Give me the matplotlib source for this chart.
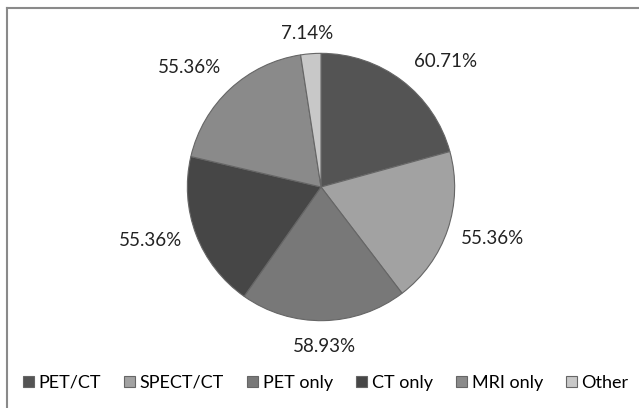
import numpy as np
import matplotlib.pyplot as plt
from matplotlib.lines import Line2D

labels = ['PET/CT', 'SPECT/CT', 'PET only', 'CT only', 'MRI only', 'Other']
values = [60.71, 55.36, 58.93, 55.36, 55.36, 7.14]
colors = ['#545454', '#a2a2a2', '#787878', '#464646', '#8a8a8a', '#c8c8c8']
# data label placement (distance in pie radii, angle nudge in degrees), like Excel's best fit
label_dist = [1.32, 1.34, 1.19, 1.34, 1.33, 1.15]
label_shift = [-7.5, 1.9, 0.3, -3.4, 5.1, 0.9]

plt.rcParams['font.family'] = ['Lato', 'DejaVu Sans']

fig = plt.figure(figsize=(6.39, 4.08), dpi=100)
W, H = 639, 408

# outer chart frame (only left and top edges visible in the crop)
fig.add_artist(Line2D([7 / W, 7 / W], [0, 1 - 8 / H], transform=fig.transFigure, color='#8a8a8a', lw=1.5))
fig.add_artist(Line2D([7 / W, 1], [1 - 8 / H, 1 - 8 / H], transform=fig.transFigure, color='#8a8a8a', lw=1.5))

cx, cy, r = 321, 187, 135
ax = fig.add_axes([(cx - r) / W, (H - cy - r) / H, 2 * r / W, 2 * r / H])

wedges, _ = ax.pie(values, colors=colors, startangle=90, counterclock=False,
                   wedgeprops=dict(edgecolor='#666666', linewidth=0.8))
for w, v, d, s in zip(wedges, values, label_dist, label_shift):
    mid = np.deg2rad((w.theta1 + w.theta2) / 2 + s)
    ax.text(d * np.cos(mid), d * np.sin(mid), f'{v:.2f}%', ha='center', va='center',
            fontsize=13.5, color='#222222')
ax.set_aspect('equal')
ax.set_xlim(-1.01, 1.01)
ax.set_ylim(-1.01, 1.01)

fig.legend(wedges, labels, loc='center', bbox_to_anchor=(0.51, 1 - 383 / H), ncol=6,
           frameon=False, fontsize=13, handlelength=0.6, handleheight=0.6,
           handletextpad=0.25, columnspacing=1.3)

fig.savefig('out.png', dpi=100)
